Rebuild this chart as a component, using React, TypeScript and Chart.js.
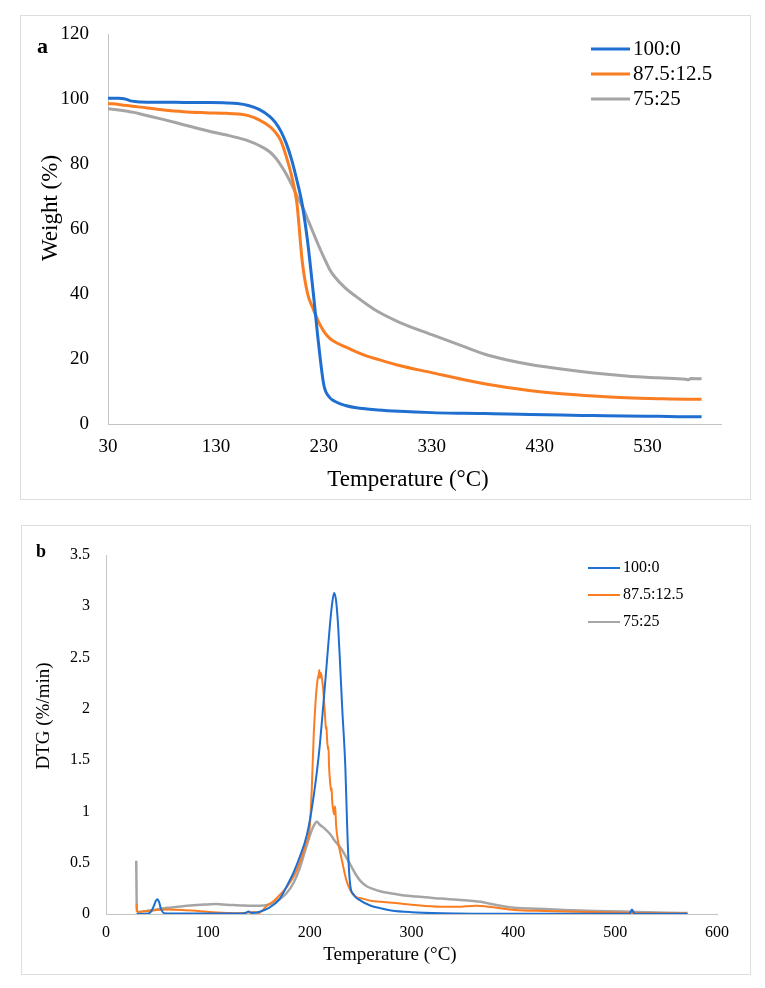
import React, { useEffect, useRef } from 'react';
import { Chart, registerables } from 'chart.js';

Chart.register(...registerables);

// ---------- shared ----------
const seriesLabels = ['100:0', '87.5:12.5', '75:25'];
const seriesColors = ['#1f6fd1', '#fa7d22', '#a5a5a5'];

// ---------- panel a : TGA ----------
const tgaTemps = [30, 40, 45, 50, 55, 60, 80, 100, 120, 140, 150, 160, 170, 180, 185, 190, 195, 200, 205, 210, 215, 220, 225, 230, 235, 240, 250, 260, 270, 280, 300, 330, 360, 380, 400, 420, 450, 480, 510, 540, 565, 568, 570, 580];
const tgaWeight100 = [100.2, 100.2, 100.1, 99.5, 99.2, 99.1, 99.0, 98.95, 98.9, 98.8, 98.6, 98.0, 96.8, 94.6, 92.8, 90.2, 86.5, 81.5, 75, 67.5, 56, 41, 25, 12, 8.3, 7.0, 5.7, 5.0, 4.6, 4.3, 3.9, 3.5, 3.3, 3.2, 3.1, 2.95, 2.75, 2.6, 2.45, 2.35, 2.25, 2.25, 2.25, 2.2];
const tgaWeight875 = [98.6, 98.3, 98.1, 97.9, 97.7, 97.5, 96.7, 96.1, 95.8, 95.6, 95.4, 94.9, 93.6, 91.5, 89.8, 87.3, 82.5, 76.5, 68, 50, 40, 35.5, 31.5, 28.5, 26.5, 25.3, 23.7, 22.2, 20.9, 19.9, 18.0, 15.8, 13.6, 12.3, 11.2, 10.3, 9.3, 8.6, 8.1, 7.8, 7.65, 7.65, 7.6, 7.6];
const tgaWeight75 = [97.0, 96.6, 96.4, 96.1, 95.8, 95.4, 93.8, 92.1, 90.4, 88.9, 88.1, 87.1, 85.7, 83.7, 82.0, 79.7, 77.0, 73.8, 70.2, 67, 63, 59, 55, 51.3, 47.8, 45.3, 41.8, 39.2, 36.8, 34.6, 31.3, 27.5, 23.8, 21.4, 19.7, 18.4, 16.9, 15.7, 14.8, 14.2, 13.8, 13.6, 14.0, 13.9];
const tgaXTicks = [30, 130, 230, 330, 430, 530];
const tgaYTicks = [0, 20, 40, 60, 80, 100, 120];

// ---------- panel b : DTG ----------
const dtgTemp100 = [30, 40, 44, 47, 49, 50.5, 52, 54, 57, 70, 100, 130, 137, 140, 143, 150, 160, 170, 180, 184, 190, 197, 202, 207, 210, 213.5, 217, 220, 222, 224, 226, 228, 230, 232, 235, 237, 238.5, 240, 243, 250, 260, 270, 280, 300, 330, 400, 514, 516.5, 519, 571];
const dtgRate100 = [0, 0.003, 0.02, 0.08, 0.13, 0.145, 0.12, 0.05, 0.008, 0.004, 0.004, 0.004, 0.01, 0.025, 0.01, 0.02, 0.06, 0.14, 0.32, 0.4, 0.55, 0.76, 1.02, 1.38, 1.65, 2.05, 2.47, 2.83, 3.02, 3.13, 3.05, 2.8, 2.41, 2.0, 1.44, 0.8, 0.45, 0.27, 0.19, 0.13, 0.08, 0.055, 0.035, 0.018, 0.008, 0.003, 0.003, 0.045, 0.003, 0.002];

const dtgTemp875 = [30, 30.5, 32, 40, 50, 60, 75, 90, 105, 120, 132, 140, 145, 150, 158, 165, 172, 178, 185, 191, 196, 200, 202, 204, 206, 207, 208, 209, 209.5, 210, 211, 212, 213, 214, 215, 216, 216.5, 217, 218, 218.5, 219, 220, 221, 221.5, 222, 223, 224, 225, 226, 228, 230, 233, 236, 240, 245, 252, 260, 270, 281, 300, 329, 345, 363, 380, 401, 430, 473, 520, 571];
const dtgRate875 = [0.1, 0.03, 0.02, 0.03, 0.04, 0.045, 0.04, 0.03, 0.018, 0.01, 0.008, 0.015, 0.02, 0.01, 0.08, 0.13, 0.2, 0.27, 0.38, 0.52, 0.68, 0.84, 1.2, 1.75, 2.1, 2.22, 2.3, 2.34, 2.38, 2.3, 2.35, 2.3, 2.22, 2.1, 1.95, 1.8, 1.83, 1.72, 1.6, 1.63, 1.45, 1.3, 1.2, 1.23, 1.12, 1.02, 0.97, 1.05, 0.86, 0.7, 0.6, 0.46, 0.33, 0.23, 0.17, 0.15, 0.13, 0.12, 0.11, 0.09, 0.07, 0.07, 0.08, 0.065, 0.04, 0.03, 0.02, 0.01, 0.005];

const dtgTemp75 = [29.7, 30.3, 32, 40, 50, 60, 70, 80, 90, 100, 108, 115, 125, 135, 145, 155, 162, 170, 177, 184, 190, 195, 200, 204, 207, 210, 215, 220, 225, 230, 235, 240, 245, 250, 256, 262, 270, 281, 293, 305, 317, 329, 345, 358, 368, 377, 390, 401, 425, 450, 480, 522, 550, 571];
const dtgRate75 = [0.52, 0.03, 0.02, 0.03, 0.045, 0.06, 0.07, 0.08, 0.088, 0.093, 0.097, 0.092, 0.087, 0.082, 0.08, 0.082, 0.1, 0.14, 0.2, 0.3, 0.44, 0.6, 0.76, 0.86, 0.9, 0.87, 0.83, 0.78, 0.71, 0.65, 0.57, 0.48, 0.39, 0.32, 0.27, 0.245, 0.22, 0.2, 0.18, 0.17, 0.16, 0.15, 0.14, 0.13, 0.12, 0.1, 0.075, 0.06, 0.05, 0.04, 0.03, 0.02, 0.013, 0.01];
const dtgXTicks = [0, 100, 200, 300, 400, 500, 600];
const dtgYTicks = [0, 0.5, 1, 1.5, 2, 2.5, 3, 3.5];

// ---------- helpers ----------
const SERIF = '"Liberation Serif", "Times New Roman", serif';

const zip = (xs: number[], ys: number[]) => xs.map((x, i) => ({ x, y: ys[i] }));

const decorations = {
  id: 'decorations',
  afterDraw(chart: any, _args: any, o: any) {
    const ctx = chart.ctx;
    ctx.save();
    ctx.fillStyle = '#000';
    // panel letter
    ctx.font = o.letterFont;
    ctx.textAlign = 'left';
    ctx.textBaseline = 'alphabetic';
    ctx.fillText(o.letter, o.letterX, o.letterY);
    // axis titles
    ctx.font = o.titleFont;
    ctx.textAlign = 'center';
    ctx.textBaseline = 'middle';
    ctx.fillText(o.xTitle, o.xTitleX, o.xTitleY);
    ctx.save();
    ctx.translate(o.yTitleX, o.yTitleY);
    ctx.rotate(-Math.PI / 2);
    ctx.fillText(o.yTitle, 0, 0);
    ctx.restore();
    // legend
    ctx.font = o.legendFont;
    ctx.textAlign = 'left';
    ctx.textBaseline = 'middle';
    chart.data.datasets.forEach((ds: any, i: number) => {
      const y = o.legendY0 + i * o.legendGap;
      ctx.strokeStyle = ds.borderColor;
      ctx.lineWidth = o.legendLineWidth;
      ctx.beginPath();
      ctx.moveTo(o.legendX, y);
      ctx.lineTo(o.legendX + o.legendLen, y);
      ctx.stroke();
      ctx.fillStyle = '#000';
      ctx.fillText(ds.label, o.legendX + o.legendLen + 3, y);
    });
    ctx.restore();
  },
};

function axis(opts: any) {
  return {
    type: 'linear',
    min: opts.min,
    max: opts.max,
    grid: { display: true, drawOnChartArea: false, drawTicks: false },
    border: { display: true, color: '#c4c4c4', width: 1 },
    ticks: {
      color: '#000',
      font: { family: SERIF, size: opts.fontSize },
      padding: opts.padding,
      autoSkip: false,
      maxRotation: 0,
      minRotation: 0,
      callback: (v: number) => String(v),
    },
    afterBuildTicks: (s: any) => {
      s.ticks = opts.ticks.map((v: number) => ({ value: v }));
    },
    afterFit: (s: any) => {
      if (opts.width !== undefined) s.width = opts.width;
      if (opts.height !== undefined) s.height = opts.height;
    },
  };
}

function TgaChart() {
  const ref = useRef<HTMLCanvasElement>(null);
  useEffect(() => {
    const series = [tgaWeight100, tgaWeight875, tgaWeight75];
    const chart = new Chart(ref.current as HTMLCanvasElement, {
      type: 'line',
      data: {
        datasets: series.map((vals, i) => ({
          label: seriesLabels[i],
          data: zip(tgaTemps, vals),
          borderColor: seriesColors[i],
          backgroundColor: seriesColors[i],
          borderWidth: 3,
          pointRadius: 0,
          fill: false,
          cubicInterpolationMode: 'monotone',
        })),
      },
      options: {
        responsive: false,
        animation: false,
        events: [],
        layout: { padding: { left: 0, top: 34, right: 44, bottom: 0 } },
        scales: {
          x: axis({ min: 30, max: 598, ticks: tgaXTicks, fontSize: 19, padding: 12, height: 86 }),
          y: axis({ min: 0, max: 120, ticks: tgaYTicks, fontSize: 19, padding: 19, width: 108 }),
        },
        plugins: {
          legend: { display: false },
          tooltip: { enabled: false },
          decorations: {
            letter: 'a', letterFont: `bold 22px ${SERIF}`, letterX: 37, letterY: 53,
            titleFont: `23px ${SERIF}`,
            xTitle: 'Temperature (°C)', xTitleX: 408, xTitleY: 480,
            yTitle: 'Weight (%)', yTitleX: 51, yTitleY: 208,
            legendX: 591, legendY0: 49, legendGap: 25, legendLen: 39,
            legendFont: `21px ${SERIF}`, legendLineWidth: 3,
          },
        } as any,
      } as any,
      plugins: [decorations as any],
    } as any);
    return () => chart.destroy();
  }, []);
  return <canvas ref={ref} width={765} height={510} style={{ position: 'absolute', left: 0, top: 0, width: 765, height: 510 }} />;
}

function DtgChart() {
  const ref = useRef<HTMLCanvasElement>(null);
  useEffect(() => {
    const temps = [dtgTemp100, dtgTemp875, dtgTemp75];
    const rates = [dtgRate100, dtgRate875, dtgRate75];
    const chart = new Chart(ref.current as HTMLCanvasElement, {
      type: 'line',
      data: {
        datasets: temps.map((t, i) => ({
          label: seriesLabels[i],
          data: zip(t, rates[i]),
          borderColor: seriesColors[i],
          backgroundColor: seriesColors[i],
          borderWidth: i === 2 ? 2.5 : 2,
          pointRadius: 0,
          fill: false,
          cubicInterpolationMode: 'monotone',
        })),
      },
      options: {
        responsive: false,
        animation: false,
        events: [],
        layout: { padding: { left: 0, top: 45, right: 48, bottom: 0 } },
        scales: {
          x: axis({ min: 0, max: 600, ticks: dtgXTicks, fontSize: 16, padding: 9, height: 74 }),
          y: axis({ min: 0, max: 3.5, ticks: dtgYTicks, fontSize: 16, padding: 16, width: 106 }),
        },
        plugins: {
          legend: { display: false },
          tooltip: { enabled: false },
          decorations: {
            letter: 'b', letterFont: `bold 18px ${SERIF}`, letterX: 36, letterY: 47,
            titleFont: `19px ${SERIF}`,
            xTitle: 'Temperature (°C)', xTitleX: 390, xTitleY: 445,
            yTitle: 'DTG (%/min)', yTitleX: 44, yTitleY: 206,
            legendX: 588, legendY0: 58, legendGap: 27, legendLen: 32,
            legendFont: `16px ${SERIF}`, legendLineWidth: 2,
          },
        } as any,
      } as any,
      plugins: [decorations as any],
    } as any);
    return () => chart.destroy();
  }, []);
  return <canvas ref={ref} width={765} height={478} style={{ position: 'absolute', left: 0, top: 510, width: 765, height: 478 }} />;
}

export default function App() {
  return (
    <div style={{ position: 'absolute', left: 0, top: 0, width: 765, height: 988, overflow: 'hidden', background: '#fff' }}>
      <div style={{ position: 'absolute', left: 20, top: 15, width: 731, height: 485, boxSizing: 'border-box', border: '1px solid #dedede' }} />
      <div style={{ position: 'absolute', left: 21, top: 525, width: 730, height: 450, boxSizing: 'border-box', border: '1px solid #dedede' }} />
      <TgaChart />
      <DtgChart />
    </div>
  );
}
